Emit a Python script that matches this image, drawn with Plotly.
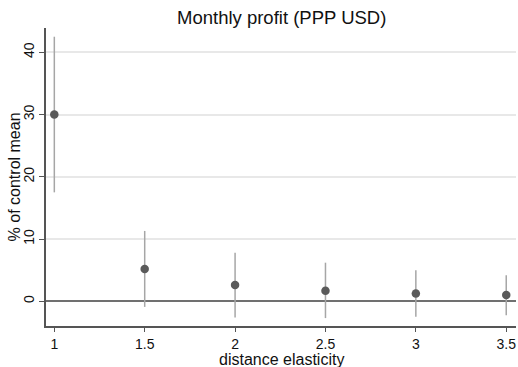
import plotly.graph_objects as go

# Data
elasticity = [1, 1.5, 2, 2.5, 3, 3.5]
effect = [30.0, 5.2, 2.6, 1.7, 1.25, 1.0]
ci_low = [17.5, -0.9, -2.6, -2.7, -2.5, -2.25]
ci_high = [42.5, 11.3, 7.8, 6.2, 5.0, 4.2]
x_ticks = [1, 1.5, 2, 2.5, 3, 3.5]
x_tick_labels = ["1", "1.5", "2", "2.5", "3", "3.5"]
y_ticks = [0, 10, 20, 30, 40]
y_tick_labels = ["0", "10", "20", "30", "40"]

W, H = 518, 367
L, R, T, B = 46, 2, 28, 41

fig = go.Figure()

# CI lines
for xv, lo, hi in zip(elasticity, ci_low, ci_high):
    fig.add_trace(go.Scatter(x=[xv, xv], y=[lo, hi], mode="lines",
                             line=dict(color="#a6a6a6", width=1.5),
                             showlegend=False, hoverinfo="skip"))

fig.add_trace(go.Scatter(x=elasticity, y=effect, mode="markers",
                         marker=dict(color="#5a5a5a", size=8.5),
                         showlegend=False))

font = "Liberation Sans, Arial, sans-serif"

fig.update_layout(
    width=W, height=H,
    margin=dict(l=L, r=R, t=T, b=B),
    paper_bgcolor="white", plot_bgcolor="white",
    font=dict(family=font, color="#111", size=14),
    xaxis=dict(range=[0.954, 3.554], tickvals=x_ticks, ticktext=x_tick_labels,
               showgrid=False, zeroline=False, showline=True, linecolor="#555",
               linewidth=1.5, ticks="outside", ticklen=4, tickcolor="#555",
               tickfont=dict(size=14, family=font, color="#111")),
    yaxis=dict(range=[-3.97, 43.9], tickvals=y_ticks, ticktext=y_tick_labels,
               showgrid=True, gridcolor="#e8e8e8", gridwidth=1.5,
               zeroline=True, zerolinecolor="#707070", zerolinewidth=1.5,
               showline=True, linecolor="#555", linewidth=1.5,
               ticks="outside", ticklen=5, tickcolor="#555", tickangle=-90,
               tickfont=dict(size=14, family=font, color="#111")),
    annotations=[
        dict(text="Monthly profit (PPP USD)", xref="paper", yref="paper",
             x=0.5, y=1, yshift=11, xanchor="center", yanchor="middle",
             showarrow=False, font=dict(size=18.5, family=font, color="#111")),
        dict(text="distance elasticity", xref="paper", yref="paper",
             x=0.5, y=0, yshift=-33, xanchor="center", yanchor="middle",
             showarrow=False, font=dict(size=16, family=font, color="#111")),
        dict(text="% of control mean", xref="paper", yref="y",
             x=0, y=19.9, xshift=-32, xanchor="center", yanchor="middle",
             textangle=-90, showarrow=False,
             font=dict(size=16, family=font, color="#111")),
    ],
)

fig.write_html("out.html")
